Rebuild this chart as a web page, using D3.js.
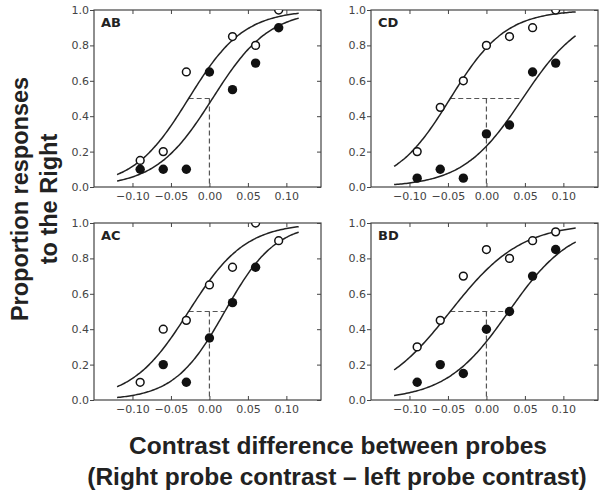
<!DOCTYPE html>
<html>
<head>
<meta charset="utf-8">
<script src="https://cdn.jsdelivr.net/npm/d3@7/dist/d3.min.js"></script>
<style>
  body { margin: 0; background: #fff; }
  .tick text { font-family: "DejaVu Sans", Verdana, sans-serif; font-size: 11px; fill: #444; }
  .tick line { stroke: #444; }
  .title { font-family: "Liberation Sans", Arial, sans-serif; font-weight: bold; fill: #222; }
  .panel-label { font-family: "DejaVu Sans", Verdana, sans-serif; font-weight: bold; font-size: 13px; fill: #222; }
</style>
</head>
<body>
<svg id="chart" width="599" height="495"></svg>
<script>
// probe contrast differences (x) shared by all panels
const probeX = [-0.09, -0.06, -0.03, 0.00, 0.03, 0.06, 0.09]
const xTicks = [-0.10, -0.05, 0.00, 0.05, 0.10]
const yTicks = [0.0, 0.2, 0.4, 0.6, 0.8, 1.0]

const panelNames = ['AB', 'CD', 'AC', 'BD']

// proportion "right" responses, open and filled symbols (null = not shown)
const openAB = [0.15, 0.20, 0.65, null, 0.85, 0.80, 1.00]
const filledAB = [0.10, 0.10, 0.10, 0.65, 0.55, 0.70, 0.90]
const openCD = [0.20, 0.45, 0.60, 0.80, 0.85, 0.90, 1.00]
const filledCD = [0.05, 0.10, 0.05, 0.30, 0.35, 0.65, 0.70]
const openAC = [0.10, 0.40, 0.45, 0.65, 0.75, 1.00, 0.90]
const filledAC = [null, 0.20, 0.10, 0.35, 0.55, 0.75, null]
const openBD = [0.30, 0.45, 0.70, 0.85, 0.80, 0.90, 0.95]
const filledBD = [0.10, 0.20, 0.15, 0.40, 0.50, 0.70, 0.85]

// fitted psychometric functions (logistic): point of subjective equality and spread
const openPSE = [-0.027, -0.047, -0.027, -0.047]
const openSpread = [0.036, 0.036, 0.037, 0.046]
const filledPSE = [0.004, 0.047, 0.020, 0.029]
const filledSpread = [0.037, 0.039, 0.033, 0.041]
const fitRange = [-0.12, 0.116]

const openData = [openAB, openCD, openAC, openBD]
const filledData = [filledAB, filledCD, filledAC, filledBD]

const svg = d3.select('#chart')

const layout = {
  cols: [94, 371],
  rows: [10, 223],
  width: 227,
  height: 177
}

const x = d3.scaleLinear().domain([-0.15, 0.145]).range([0, layout.width])
const y = d3.scaleLinear().domain([0, 1]).range([layout.height, 0])

function logistic (mu, s) {
  return (v) => 1 / (1 + Math.exp(-(v - mu) / s))
}

panelNames.forEach(function (name, i) {
  const left = layout.cols[i % 2]
  const top = layout.rows[Math.floor(i / 2)]
  const g = svg.append('g').attr('transform', `translate(${left},${top})`)

  g.append('clipPath')
    .attr('id', 'clip-' + name)
    .append('rect')
    .attr('width', layout.width)
    .attr('height', layout.height)

  // axes
  const fmt = d3.format('.2f')
  g.append('g')
    .attr('transform', `translate(0,${layout.height})`)
    .call(d3.axisBottom(x).tickValues(xTicks).tickSize(-4).tickPadding(5).tickFormat(fmt))
  g.append('g')
    .call(d3.axisTop(x).tickValues(xTicks).tickSize(-4).tickFormat(''))
  g.append('g')
    .call(d3.axisLeft(y).tickValues(yTicks).tickSize(4).tickPadding(1).tickFormat(d3.format('.1f')))
  g.append('g')
    .attr('transform', `translate(${layout.width},0)`)
    .call(d3.axisRight(y).tickValues(yTicks).tickSize(-4).tickFormat(''))
  g.selectAll('.domain').remove()

  g.append('rect')
    .attr('width', layout.width)
    .attr('height', layout.height)
    .attr('fill', 'none')
    .attr('stroke', '#444')
    .attr('stroke-width', 1.2)

  const plot = g.append('g').attr('clip-path', `url(#clip-${name})`)

  // dashed guide: PSE shift at 50%, and zero difference
  plot.append('path')
    .attr('d', `M${x(openPSE[i])},${y(0.5)}H${x(filledPSE[i])}`)
    .attr('stroke', '#555')
    .attr('stroke-width', 1.2)
    .attr('stroke-dasharray', '5,3')
    .attr('fill', 'none')
  plot.append('path')
    .attr('d', `M${x(0)},${y(0.5)}V${y(0)}`)
    .attr('stroke', '#555')
    .attr('stroke-width', 1.2)
    .attr('stroke-dasharray', '5,3')
    .attr('fill', 'none')

  // fitted curves
  const grid = d3.range(fitRange[0], fitRange[1] + 1e-9, 0.002)
  const line = d3.line().x((d) => x(d[0])).y((d) => y(d[1])).curve(d3.curveBasis)
  const fits = [
    logistic(openPSE[i], openSpread[i]),
    logistic(filledPSE[i], filledSpread[i])
  ]
  fits.forEach(function (f) {
    plot.append('path')
      .attr('d', line(grid.map((v) => [v, f(v)])))
      .attr('fill', 'none')
      .attr('stroke', '#222')
      .attr('stroke-width', 1.5)
  })

  // data points
  const toPoints = (vals) => vals
    .map((v, j) => ({ x: probeX[j], y: v }))
    .filter((d) => d.y !== null)

  plot.selectAll('circle.filled')
    .data(toPoints(filledData[i]))
    .enter()
    .append('circle')
    .attr('class', 'filled')
    .attr('cx', (d) => x(d.x))
    .attr('cy', (d) => y(d.y))
    .attr('r', 4.7)
    .attr('fill', '#111')

  plot.selectAll('circle.open')
    .data(toPoints(openData[i]))
    .enter()
    .append('circle')
    .attr('class', 'open')
    .attr('cx', (d) => x(d.x))
    .attr('cy', (d) => y(d.y))
    .attr('r', 3.9)
    .attr('fill', '#fff')
    .attr('stroke', '#111')
    .attr('stroke-width', 1.5)

  g.append('text')
    .attr('class', 'panel-label')
    .attr('x', 7)
    .attr('y', 17)
    .text(name)
})

// axis titles
const yTitle = svg.append('text')
  .attr('class', 'title')
  .attr('transform', 'translate(0,199) rotate(-90)')
  .attr('text-anchor', 'middle')
  .style('font-size', '23.5px')
yTitle.append('tspan').attr('x', 0).attr('y', 28).text('Proportion responses')
yTitle.append('tspan').attr('x', 0).attr('y', 57).text('to the Right')

const xTitle = svg.append('text')
  .attr('class', 'title')
  .attr('text-anchor', 'middle')
  .style('font-size', '24.5px')
xTitle.append('tspan').attr('x', 338).attr('y', 454).text('Contrast difference between probes')
xTitle.append('tspan').attr('x', 337).attr('y', 485).text('(Right probe contrast – left probe contrast)')
</script>
</body>
</html>
